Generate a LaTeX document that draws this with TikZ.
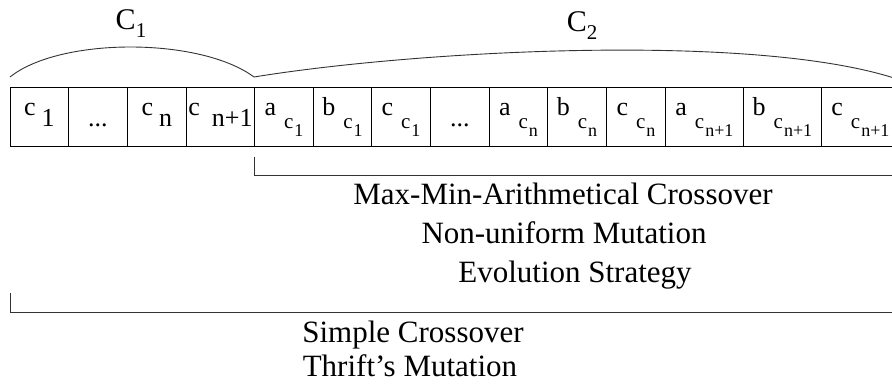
\documentclass[tikz,border=0pt]{standalone}
\usepackage{fontspec}
\setmainfont{Liberation Serif}
\usepackage{tikz}
\usetikzlibrary{calc}

% gene with a lowered index, and a parameter with a twice lowered index
\newcommand{\gene}[3][6pt]{#2\hspace{#1}\raisebox{-11pt}{#3}}
\newcommand{\param}[3]{#1\hspace{8pt}\raisebox{-13pt}{\fontsize{21}{21}\selectfont #2\hspace{1pt}\raisebox{-8pt}{\fontsize{18}{18}\selectfont #3}}}

\tikzset{
  cell/.style={draw, line width=0.9pt, anchor=north west, inner sep=0pt,
    text height=28pt, text depth=31pt, align=center,
    font=\fontsize{26}{30}\selectfont},
  part/.style={line width=0.9pt, black!80},
  lbl/.style={anchor=base, font=\fontsize{31}{36}\selectfont},
  sym/.style={anchor=base, inner sep=0pt, font=\fontsize{30}{34}\selectfont}
}

\begin{document}
\begin{tikzpicture}[x=1pt, y=-1pt]
            \clip (0,0) rectangle (892,387);

            % Cells of the chromosome
            \node[cell, minimum width=58pt] (g1) at (10,87) {\gene{c}{1}};
            \node[cell, minimum width=59pt] (g2) at (68,87) {\raisebox{-11pt}{...}};
            \node[cell, minimum width=59pt] (g3) at (127,87) {\gene{c}{n}};
            \node[cell, minimum width=68pt] (g4) at (186,87) {\gene[12pt]{c}{n+1}};
            \node[cell, minimum width=59pt] (g5) at (254,87) {\param{a}{c}{1}};
            \node[cell, minimum width=58pt] (g6) at (313,87) {\param{b}{c}{1}};
            \node[cell, minimum width=59pt] (g7) at (371,87) {\param{c}{c}{1}};
            \node[cell, minimum width=59pt] (g8) at (430,87) {\raisebox{-11pt}{...}};
            \node[cell, minimum width=58pt] (g9) at (489,87) {\param{a}{c}{n}};
            \node[cell, minimum width=59pt] (g10) at (547,87) {\param{b}{c}{n}};
            \node[cell, minimum width=59pt] (g11) at (606,87) {\param{c}{c}{n}};
            \node[cell, minimum width=78pt] (g12) at (665,87) {\param{a}{c}{n+1}};
            \node[cell, minimum width=78pt] (g13) at (743,87) {\param{b}{c}{n+1}};
            \node[cell, minimum width=78pt] (g14) at (821,87) {\param{c}{c}{n+1}};

            % Arcs over the two parts
            \coordinate (s1) at ([yshift=10pt]g1.north west);
            \coordinate (s2) at ([yshift=10pt]g5.north west);
            \coordinate (s3) at (900,80);
            \draw[part] (s1) .. controls (60,37) and (200,37) .. (s2);
            \draw[part] (s2) .. controls (420,50) and (760,32) .. (s3);
            \node[sym] (C1) at (131,30) {C\raisebox{-8pt}{\fontsize{21}{21}\selectfont 1}};
            \node[sym] (C2) at (582,32) {C\raisebox{-8pt}{\fontsize{21}{21}\selectfont 2}};

            % Brackets under the parts with their operators
            \draw[part] ([yshift=-10pt]g5.south west) |- ([yshift=-29pt]g14.south east);
            \node[lbl] (xover) at (563,205) {Max-Min-Arithmetical Crossover};
            \node[lbl] (mutation) at (564,244) {Non-uniform Mutation};
            \node[lbl] (evol) at (575,283) {Evolution Strategy};

            \draw[part] ([yshift=-146pt]g1.south west) |- ([yshift=-166pt]g14.south east);
            \node[lbl] (simple) at (413,343) {Simple Crossover};
            \node[lbl] (thrift) at (410,377) {Thrift's Mutation};
\end{tikzpicture}
\end{document}
